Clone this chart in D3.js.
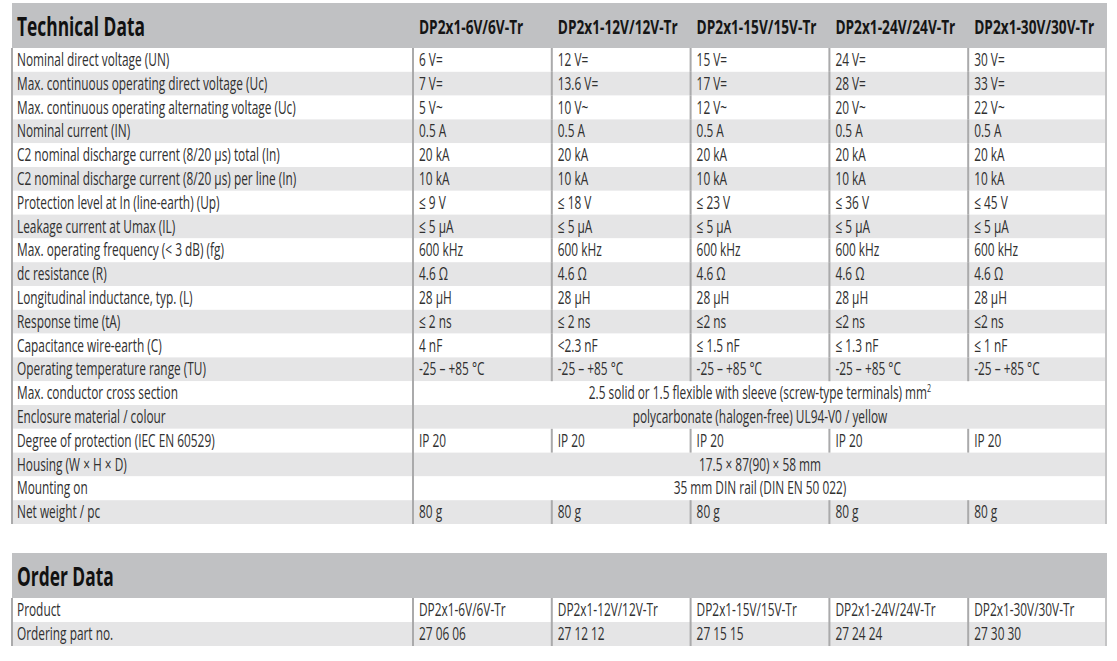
<!DOCTYPE html>
<html><head><meta charset="utf-8">
<script src="https://cdn.jsdelivr.net/npm/d3@7/dist/d3.min.js"></script>
<style>body{margin:0;background:#fff}svg{display:block}</style>
</head><body>
<svg id="chart" width="1117" height="661"></svg>
<script>
const titles = ["Technical Data", "Order Data"];
const products = ["DP2x1-6V/6V-Tr", "DP2x1-12V/12V-Tr", "DP2x1-15V/15V-Tr", "DP2x1-24V/24V-Tr", "DP2x1-30V/30V-Tr"];
const techLabels = [
  "Nominal direct voltage (UN)",
  "Max. continuous operating direct voltage (Uc)",
  "Max. continuous operating alternating voltage (Uc)",
  "Nominal current (IN)",
  "C2 nominal discharge current (8/20 µs) total (In)",
  "C2 nominal discharge current (8/20 µs) per line (In)",
  "Protection level at In (line-earth) (Up)",
  "Leakage current at Umax (IL)",
  "Max. operating frequency (< 3 dB) (fg)",
  "dc resistance (R)",
  "Longitudinal inductance, typ. (L)",
  "Response time (tA)",
  "Capacitance wire-earth (C)",
  "Operating temperature range (TU)",
  "Max. conductor cross section",
  "Enclosure material / colour",
  "Degree of protection (IEC EN 60529)",
  "Housing (W × H × D)",
  "Mounting on",
  "Net weight / pc"
];
const techValues = [
  ["6 V=", "12 V=", "15 V=", "24 V=", "30 V="],
  ["7 V=", "13.6 V=", "17 V=", "28 V=", "33 V="],
  ["5 V~", "10 V~", "12 V~", "20 V~", "22 V~"],
  ["0.5 A", "0.5 A", "0.5 A", "0.5 A", "0.5 A"],
  ["20 kA", "20 kA", "20 kA", "20 kA", "20 kA"],
  ["10 kA", "10 kA", "10 kA", "10 kA", "10 kA"],
  ["≤ 9 V", "≤ 18 V", "≤ 23 V", "≤ 36 V", "≤ 45 V"],
  ["≤ 5 µA", "≤ 5 µA", "≤ 5 µA", "≤ 5 µA", "≤ 5 µA"],
  ["600 kHz", "600 kHz", "600 kHz", "600 kHz", "600 kHz"],
  ["4.6 Ω", "4.6 Ω", "4.6 Ω", "4.6 Ω", "4.6 Ω"],
  ["28 µH", "28 µH", "28 µH", "28 µH", "28 µH"],
  ["≤ 2 ns", "≤ 2 ns", "≤2 ns", "≤2 ns", "≤2 ns"],
  ["4 nF", "<2.3 nF", "≤ 1.5 nF", "≤ 1.3 nF", "≤ 1 nF"],
  ["-25 – +85 °C", "-25 – +85 °C", "-25 – +85 °C", "-25 – +85 °C", "-25 – +85 °C"],
  "2.5 solid or 1.5 flexible with sleeve (screw-type terminals) mm|2",
  "polycarbonate (halogen-free) UL94-V0 / yellow",
  ["IP 20", "IP 20", "IP 20", "IP 20", "IP 20"],
  "17.5 × 87(90) × 58 mm",
  "35 mm DIN rail (DIN EN 50 022)",
  ["80 g", "80 g", "80 g", "80 g", "80 g"]
];
const orderLabels = ["Product", "Ordering part no."];
const partNumbers = ["27 06 06", "27 12 12", "27 15 15", "27 24 24", "27 30 30"];
const orderValues = [products, partNumbers];

const svg = d3.select("#chart");
const FONT = "'Open Sans', 'Noto Sans', sans-serif";
const L = 12, R = 1107, SPLIT = 413;

function measure(str, size, weight) {
  const t = svg.append("text").attr("font-family", FONT).attr("font-size", size)
    .attr("font-weight", weight).text(str);
  const w = t.node().getComputedTextLength();
  t.remove();
  return w;
}
const styles = {
  body:  {size: 18.5, weight: 400, fill: "#303030"},
  head:  {size: 19, weight: 700, fill: "#151515"},
  title: {size: 27, weight: 700, fill: "#111111"}
};
styles.body.sx = 279 / measure(techLabels[2], styles.body.size, 400);
styles.head.sx = 120 / measure(products[1], styles.head.size, 700);
styles.title.sx = 128 / measure(titles[0], styles.title.size, 700);

function txt(g, str, x, y, st, anchor) {
  const t = g.append("text")
    .attr("transform", `translate(${x},${y}) scale(${st.sx},1)`)
    .attr("font-family", FONT).attr("font-size", st.size)
    .attr("font-weight", st.weight).attr("fill", st.fill)
    .attr("text-anchor", anchor || "start");
  const parts = str.split("|");
  t.append("tspan").text(parts[0]);
  if (parts[1]) t.append("tspan").attr("dy", -7).attr("font-size", st.size * 0.6).text(parts[1]);
  return t;
}

const col = d3.scaleBand().domain(products).range([SPLIT, R]);

function table(title, top, headBottom, labels, values, rowsBottom, showHeads) {
  const g = svg.append("g");
  const row = d3.scaleBand().domain(labels).range([headBottom, rowsBottom]);
  g.append("rect").attr("x", L).attr("y", top).attr("width", R - L).attr("height", headBottom - top)
    .attr("fill", "#c0c1c3");
  txt(g, title, 17, top + 33, styles.title);
  if (showHeads) products.forEach(p => txt(g, p, col(p) + 6, top + 31, styles.head));
  g.selectAll("rect.row").data(labels).join("rect").attr("class", "row")
    .attr("x", L).attr("y", d => row(d)).attr("width", R - L).attr("height", row.bandwidth())
    .attr("fill", (d, i) => i % 2 ? "#e5e5e6" : "#ffffff");
  const lineFill = "#aaaaab";
  g.append("rect").attr("x", L - 1).attr("y", headBottom).attr("width", 2).attr("height", rowsBottom - headBottom).attr("fill", lineFill);
  g.append("rect").attr("x", R - 2).attr("y", headBottom).attr("width", 2).attr("height", rowsBottom - headBottom).attr("fill", "#c4c4c5");
  g.append("rect").attr("x", SPLIT - 1).attr("y", headBottom).attr("width", 2).attr("height", rowsBottom - headBottom).attr("fill", lineFill);
  labels.forEach((lab, i) => {
    const v = values[i];
    const y = row(lab), yb = y + row.bandwidth() / 2 + 6;
    txt(g, lab, 17, yb, styles.body);
    if (Array.isArray(v)) {
      products.forEach((p, j) => {
        if (j > 0) g.append("rect").attr("x", col(p) - 1).attr("y", y).attr("width", 2)
          .attr("height", row.bandwidth()).attr("fill", lineFill);
        txt(g, v[j], col(p) + 6, yb, styles.body);
      });
    } else {
      txt(g, v, (SPLIT + R) / 2, yb, styles.body, "middle");
    }
  });
}

table(titles[0], 3, 48, techLabels, techValues, 524, true);
table(titles[1], 553, 598, orderLabels, orderValues, 646, false);
</script>
</body></html>
